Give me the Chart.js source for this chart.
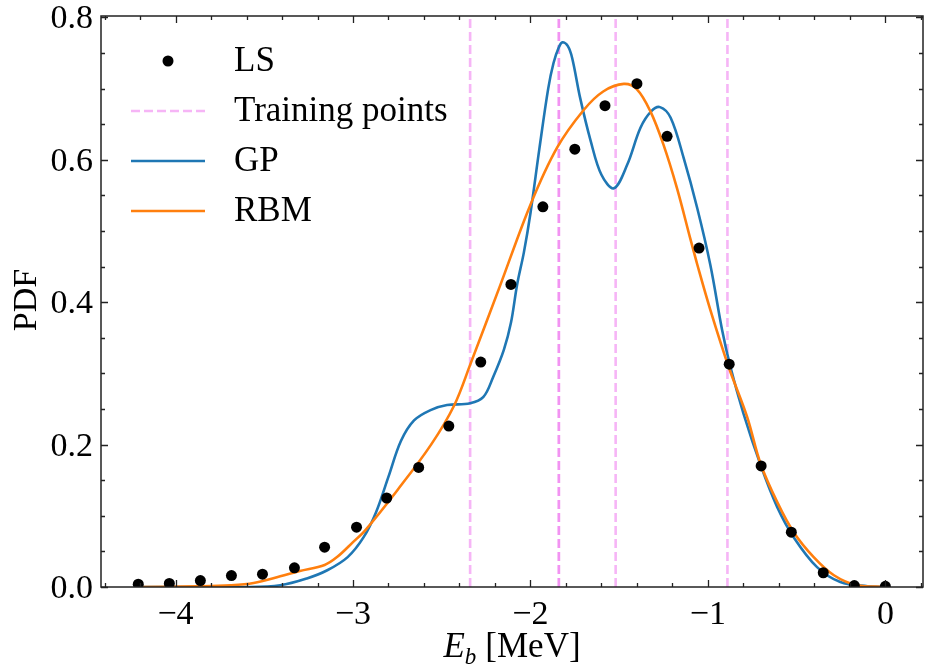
<!DOCTYPE html>
<html>
<head>
<meta charset="utf-8">
<script src="https://cdn.jsdelivr.net/npm/chart.js@4/dist/chart.umd.min.js"></script>
<style>
  html, body { margin: 0; padding: 0; background: #fff; }
  #wrap { width: 932px; height: 671px; }
</style>
</head>
<body>
<div id="wrap"><canvas id="pdfChart" width="932" height="671"></canvas></div>
<script>
// LS points
const lsX = [-4.21, -4.035, -3.86, -3.685, -3.51, -3.33, -3.16, -2.98, -2.81, -2.63, -2.46, -2.28, -2.11, -1.93, -1.75, -1.58, -1.40, -1.23, -1.05, -0.88, -0.70, -0.53, -0.35, -0.175, 0];
const lsY = [0.004, 0.005, 0.009, 0.016, 0.018, 0.027, 0.056, 0.084, 0.125, 0.168, 0.226, 0.316, 0.425, 0.534, 0.615, 0.676, 0.707, 0.633, 0.476, 0.313, 0.170, 0.077, 0.020, 0.002, 0.001];

// GP curve
const gpX = [-4.21, -3.6, -3.41, -3.26, -3.145, -3.03, -2.94, -2.87, -2.8, -2.73, -2.656, -2.563, -2.47, -2.34, -2.265, -2.21, -2.15, -2.11, -2.075, -2.037, -2.0, -1.95, -1.9, -1.87, -1.84, -1.82, -1.79, -1.765, -1.72, -1.66, -1.6, -1.53, -1.455, -1.38, -1.32, -1.27, -1.21, -1.136, -1.06, -0.986, -0.92, -0.873, -0.8, -0.7, -0.61, -0.517, -0.385, -0.254, -0.1, 0];
const gpY = [0, 0, 0.0024, 0.012, 0.0235, 0.042, 0.07, 0.105, 0.155, 0.205, 0.234, 0.2485, 0.2555, 0.258, 0.267, 0.295, 0.333, 0.371, 0.425, 0.47, 0.525, 0.615, 0.7, 0.736, 0.758, 0.765, 0.76, 0.743, 0.687, 0.626, 0.579, 0.560, 0.593, 0.645, 0.668, 0.674, 0.659, 0.602, 0.532, 0.452, 0.361, 0.309, 0.244, 0.169, 0.1125, 0.07, 0.028, 0.007, 0.001, 0];

// RBM curve
const rbmX = [-4.21, -3.88, -3.69, -3.56, -3.41, -3.3, -3.16, -3.09, -3.0, -2.93, -2.75, -2.56, -2.43, -2.34, -2.17, -2.0, -1.85, -1.70, -1.59, -1.474, -1.4, -1.324, -1.25, -1.174, -1.1, -1.06, -0.986, -0.883, -0.779, -0.704, -0.61, -0.517, -0.404, -0.29, -0.16, 0];
const rbmY = [0, 0.001, 0.0024, 0.0056, 0.015, 0.0225, 0.031, 0.042, 0.063, 0.08, 0.136, 0.2, 0.255, 0.312, 0.424, 0.537, 0.617, 0.670, 0.696, 0.7066, 0.699, 0.668, 0.621, 0.56, 0.49, 0.453, 0.389, 0.309, 0.239, 0.1735, 0.1195, 0.077, 0.042, 0.0165, 0.0024, 0];

// training points (vertical lines)
const trainX = [-2.34, -1.84, -1.84, -1.52, -0.89];

// axes
const xTicks = [-4, -3, -2, -1, 0];
const yTicks = [0.0, 0.2, 0.4, 0.6, 0.8];
const xRange = [-4.42, 0.212];
const yRange = [0, 0.802];

const FONT = '"Liberation Serif", "Times New Roman", serif';
const TRAIN_COLOR = 'rgba(238,120,238,0.55)';

function pairs(xs, ys) {
  return xs.map(function (x, i) { return { x: x, y: ys[i] }; });
}

let datasets = [
  { label: 'LS', type: 'scatter', data: pairs(lsX, lsY), pointRadius: 5.5, pointBackgroundColor: '#000', pointBorderWidth: 0, showLine: false, clip: 0 },
  { label: 'RBM', type: 'line', data: pairs(rbmX, rbmY), borderColor: '#ff7f0e', borderWidth: 2.6, pointRadius: 0, tension: 0.35, fill: false, clip: 0 },
  { label: 'GP', type: 'line', data: pairs(gpX, gpY), borderColor: '#1f77b4', borderWidth: 2.6, pointRadius: 0, tension: 0.35, fill: false, clip: 0 }
];
trainX.forEach(function (tx) {
  datasets.push({
    label: 'Training points', type: 'line',
    data: [{ x: tx, y: yRange[0] }, { x: tx, y: yRange[1] }],
    borderColor: TRAIN_COLOR, borderWidth: 2.6, borderDash: [9, 4],
    pointRadius: 0, fill: false, clip: 0
  });
});

// frame, inward ticks, labels, legend
const axesPlugin = {
  id: 'mplAxes',
  afterDraw: function (chart) {
    const ctx = chart.ctx, a = chart.chartArea;
    const xs = chart.scales.x, ys = chart.scales.y;
    ctx.save();
    ctx.strokeStyle = '#222';
    ctx.lineWidth = 1.5;
    ctx.strokeRect(a.left, a.top, a.right - a.left, a.bottom - a.top);

    function tickX(v, len) {
      const p = Math.round(xs.getPixelForValue(v)) + 0.5;
      ctx.beginPath();
      ctx.moveTo(p, a.bottom); ctx.lineTo(p, a.bottom - len);
      ctx.moveTo(p, a.top); ctx.lineTo(p, a.top + len);
      ctx.stroke();
    }
    function tickY(v, len) {
      const p = Math.round(ys.getPixelForValue(v)) + 0.5;
      ctx.beginPath();
      ctx.moveTo(a.left, p); ctx.lineTo(a.left + len, p);
      ctx.moveTo(a.right, p); ctx.lineTo(a.right - len, p);
      ctx.stroke();
    }
    ctx.lineWidth = 1.3;
    for (let k = -22; k <= 1; k++) {
      const v = k * 0.2;
      if (v < xRange[0] || v > xRange[1]) continue;
      if (k % 5 === 0) tickX(v, 7); else tickX(v, 4);
    }
    for (let k = 0; k <= 16; k++) {
      const v = k * 0.05;
      if (k % 4 === 0) tickY(v, 7); else tickY(v, 4);
    }

    ctx.fillStyle = '#000';
    ctx.font = '34px ' + FONT;
    ctx.textAlign = 'center';
    ctx.textBaseline = 'top';
    xTicks.forEach(function (v) {
      const s = v < 0 ? '\u2212' + Math.abs(v) : String(v);
      ctx.fillText(s, xs.getPixelForValue(v), a.bottom + 11);
    });
    ctx.textAlign = 'right';
    ctx.textBaseline = 'middle';
    yTicks.forEach(function (v) {
      ctx.fillText(v.toFixed(1), a.left - 8, ys.getPixelForValue(v) + 2);
    });

    // axis titles
    ctx.save();
    ctx.translate(27, 300);
    ctx.rotate(-Math.PI / 2);
    ctx.textAlign = 'center';
    ctx.textBaseline = 'middle';
    ctx.font = '34px ' + FONT;
    ctx.fillText('PDF', 0, 0);
    ctx.restore();

    ctx.textAlign = 'left';
    ctx.textBaseline = 'alphabetic';
    ctx.font = 'italic 35px ' + FONT;
    const wE = ctx.measureText('E').width;
    ctx.font = 'italic 23px ' + FONT;
    const wb = ctx.measureText('b').width;
    ctx.font = '35px ' + FONT;
    const wM = ctx.measureText('[MeV]').width;
    const total = wE + wb + 9 + wM;
    let x0 = (a.left + a.right) / 2 - total / 2;
    ctx.font = 'italic 35px ' + FONT;
    ctx.fillText('E', x0, 657);
    ctx.font = 'italic 23px ' + FONT;
    ctx.fillText('b', x0 + wE, 664);
    ctx.font = '35px ' + FONT;
    ctx.fillText('[MeV]', x0 + wE + wb + 9, 657);

    // legend
    const lx0 = 131, lx1 = 205, tx = 234;
    const rows = [61, 111, 161, 211];
    ctx.fillStyle = '#000';
    ctx.beginPath();
    ctx.arc((lx0 + lx1) / 2, rows[0], 5.5, 0, Math.PI * 2);
    ctx.fill();
    ctx.lineWidth = 2.6;
    ctx.strokeStyle = TRAIN_COLOR;
    ctx.setLineDash([9, 4]);
    ctx.beginPath(); ctx.moveTo(lx0, rows[1]); ctx.lineTo(lx1, rows[1]); ctx.stroke();
    ctx.setLineDash([]);
    ctx.strokeStyle = '#1f77b4';
    ctx.beginPath(); ctx.moveTo(lx0, rows[2]); ctx.lineTo(lx1, rows[2]); ctx.stroke();
    ctx.strokeStyle = '#ff7f0e';
    ctx.beginPath(); ctx.moveTo(lx0, rows[3]); ctx.lineTo(lx1, rows[3]); ctx.stroke();
    ctx.font = '35px ' + FONT;
    ctx.textBaseline = 'middle';
    ['LS', 'Training points', 'GP', 'RBM'].forEach(function (t, i) {
      ctx.fillText(t, tx, rows[i] + 1);
    });
    ctx.restore();
  }
};

const chart = new Chart(document.getElementById('pdfChart'), {
  type: 'line',
  data: { datasets: datasets },
  options: {
    responsive: false,
    animation: false,
    devicePixelRatio: 1,
    layout: { padding: { left: 101, right: 9, top: 16, bottom: 84 } },
    plugins: { legend: { display: false }, tooltip: { enabled: false } },
    scales: {
      x: { type: 'linear', min: xRange[0], max: xRange[1], display: false },
      y: { type: 'linear', min: yRange[0], max: yRange[1], display: false }
    }
  },
  plugins: [axesPlugin]
});
</script>
</body>
</html>
